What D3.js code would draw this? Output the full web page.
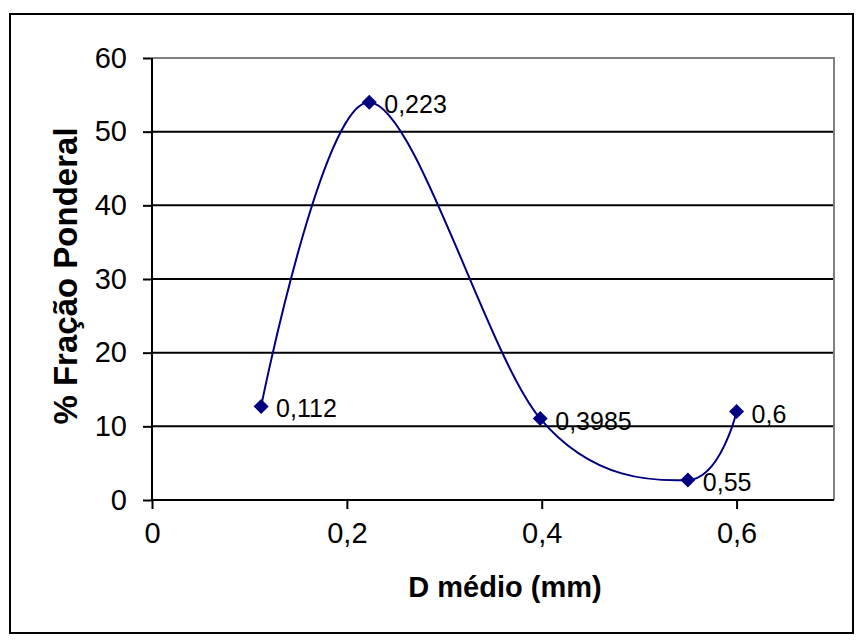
<!DOCTYPE html>
<html>
<head>
<meta charset="utf-8">
<script src="https://cdn.jsdelivr.net/npm/d3@7"></script>
<style>
  body { margin: 0; background: #fff; }
  text { font-family: "Liberation Sans", Arial, sans-serif; }
</style>
</head>
<body>
<script>
// data
var dMedio = [0.112, 0.223, 0.3985, 0.55, 0.6];
var fracao = [12.7, 54.0, 11.05, 2.7, 12.0];
var pointLabels = ["0,112", "0,223", "0,3985", "0,55", "0,6"];
var yTicks = [0, 10, 20, 30, 40, 50, 60];
var xTicks = [0, 0.2, 0.4, 0.6];

var width = 865, height = 640;

// plot area (window.top is taken, so prefix the names)
var plotLeft = 152, plotRight = 834, plotTop = 58, plotBottom = 500;

var svg = d3.select("body").append("svg")
    .attr("width", width)
    .attr("height", height);

// outer chart border
svg.append("rect")
    .attr("x", 10).attr("y", 14)
    .attr("width", 843).attr("height", 619)
    .attr("fill", "#fff")
    .attr("stroke", "#000")
    .attr("stroke-width", 2);

var x = d3.scaleLinear().domain([0, 0.7]).range([plotLeft, plotRight]);
var y = d3.scaleLinear().domain([0, 60]).range([plotBottom, plotTop]);

// comma as decimal mark
var fmt = d3.formatLocale({ decimal: ",", thousands: ".", grouping: [3], currency: ["", ""] }).format("~g");

// gridlines
svg.append("g")
    .selectAll("line")
    .data(yTicks.filter(function(d) { return d > 0 && d < 60; }))
    .enter().append("line")
    .attr("x1", plotLeft).attr("x2", plotRight)
    .attr("y1", function(d) { return y(d); })
    .attr("y2", function(d) { return y(d); })
    .attr("stroke", "#000")
    .attr("stroke-width", 2);

// gray top and right border of plot area
svg.append("path")
    .attr("d", "M" + plotLeft + "," + plotTop + "H" + plotRight + "V" + plotBottom)
    .attr("fill", "none")
    .attr("stroke", "#808080")
    .attr("stroke-width", 2);

// y axis
var yAxis = svg.append("g")
    .attr("transform", "translate(" + plotLeft + ",0)")
    .call(d3.axisLeft(y).tickValues(yTicks).tickSize(9).tickPadding(16).tickFormat(fmt));

// x axis
var xAxis = svg.append("g")
    .attr("transform", "translate(0," + plotBottom + ")")
    .call(d3.axisBottom(x).tickValues(xTicks).tickSize(9).tickPadding(13).tickFormat(fmt));

[yAxis, xAxis].forEach(function(ax) {
    ax.select(".domain").attr("stroke", "#000").attr("stroke-width", 2);
    ax.selectAll(".tick line").attr("stroke", "#000").attr("stroke-width", 2);
    ax.selectAll(".tick text")
        .attr("fill", "#000")
        .style("font-size", "29px")
        .style("font-family", "'Liberation Sans', Arial, sans-serif");
});
// domain lines without the outer tick stubs
yAxis.select(".domain").attr("d", "M0," + plotBottom + "V" + plotTop);
xAxis.select(".domain").attr("d", "M" + plotLeft + ",0H" + plotRight);

// smoothed series line
var points = dMedio.map(function(d, i) { return [d, fracao[i]]; });

var line = d3.line()
    .x(function(d) { return x(d[0]); })
    .y(function(d) { return y(d[1]); })
    .curve(d3.curveCatmullRom.alpha(0));

svg.append("path")
    .datum(points)
    .attr("d", line)
    .attr("fill", "none")
    .attr("stroke", "#000080")
    .attr("stroke-width", 2);

// diamond markers
var r = 7.5;
svg.append("g")
    .selectAll("path")
    .data(points)
    .enter().append("path")
    .attr("d", function(d) {
        var cx = x(d[0]), cy = y(d[1]);
        return "M" + cx + "," + (cy - r) + "L" + (cx + r) + "," + cy +
            "L" + cx + "," + (cy + r) + "L" + (cx - r) + "," + cy + "Z";
    })
    .attr("fill", "#000080");

// value labels
svg.append("g")
    .selectAll("text")
    .data(points)
    .enter().append("text")
    .attr("x", function(d) { return x(d[0]) + 15; })
    .attr("y", function(d) { return y(d[1]) + 11; })
    .style("font-size", "25px")
    .attr("fill", "#000")
    .text(function(d, i) { return pointLabels[i]; });

// axis titles
svg.append("text")
    .attr("x", 505)
    .attr("y", 597)
    .attr("text-anchor", "middle")
    .style("font-size", "29px")
    .style("font-weight", "bold")
    .text("D médio (mm)");

svg.append("text")
    .attr("transform", "translate(77,276) rotate(-90)")
    .attr("text-anchor", "middle")
    .style("font-size", "33px")
    .style("font-weight", "bold")
    .text("% Fração Ponderal");
</script>
</body>
</html>
